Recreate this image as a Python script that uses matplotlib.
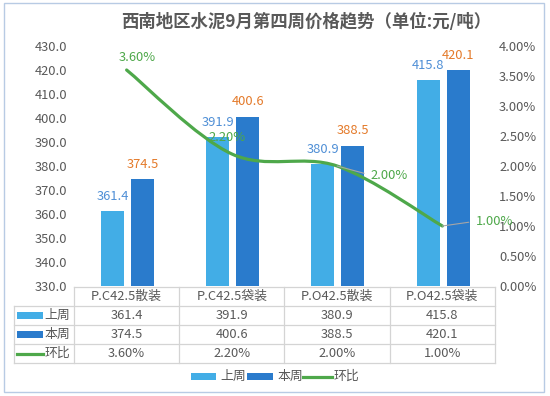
import numpy as np
import matplotlib
matplotlib.use('Agg')
import matplotlib.pyplot as plt
from matplotlib.path import Path
from matplotlib.patches import PathPatch, Rectangle
from matplotlib.lines import Line2D

plt.rcParams['font.family'] = ['Noto Sans CJK SC', 'DejaVu Sans']

# data
categories = ['P.C42.5散装', 'P.C42.5袋装', 'P.O42.5散装', 'P.O42.5袋装']
last_week = [361.4, 391.9, 380.9, 415.8]
this_week = [374.5, 400.6, 388.5, 420.1]
change_pct = [3.60, 2.20, 2.00, 1.00]
series_names = ['上周', '本周', '环比']
title = '西南地区水泥9月第四周价格趋势（单位:元/吨）'

C_LAST = '#42ade6'
C_THIS = '#2a7bcc'
C_LINE = '#4ea84a'
C_LAST_LBL = '#4f8fd6'
C_THIS_LBL = '#e47a2a'
C_TXT = '#595959'
C_GRID = '#d4d4d4'
FS = 9.3

W, H = 550, 396
fig = plt.figure(figsize=(5.5, 3.96), dpi=100)

def fx(px):
    return px / W

def fy(py):
    return 1 - py / H

L, R, T, B = 74, 495, 46, 286
ax = fig.add_axes([fx(L), fy(B), fx(R) - fx(L), fy(T) - fy(B)])
ax2 = ax.twinx()

x = np.arange(len(categories))
bw = 0.22
ax.bar(x - 0.135, last_week, bw, color=C_LAST, zorder=2)
ax.bar(x + 0.15, this_week, bw, color=C_THIS, zorder=2)
for xi, v in zip(x, last_week):
    ax.annotate(f'{v:.1f}', (xi - 0.135, v), xytext=(0, 8), textcoords='offset points',
                ha='center', va='baseline', fontsize=FS, color=C_LAST_LBL)
for xi, v in zip(x, this_week):
    ax.annotate(f'{v:.1f}', (xi + 0.15, v), xytext=(0, 8), textcoords='offset points',
                ha='center', va='baseline', fontsize=FS, color=C_THIS_LBL)

ax.set_xlim(-0.5, 3.5)
ax.set_ylim(330, 430)
ax.set_xticks([])
ax.set_yticks(np.arange(330, 431, 10))
ax.set_yticklabels([f'{v:.1f}' for v in np.arange(330, 431, 10)])
ax.tick_params(axis='y', length=0, pad=5, labelsize=FS, labelcolor=C_TXT)

ax2.set_ylim(0, 4)
ax2.set_yticks(np.arange(0, 4.01, 0.5))
ax2.set_yticklabels([f'{v:.2f}%' for v in np.arange(0, 4.01, 0.5)])
ax2.tick_params(axis='y', length=0, pad=3, labelsize=FS, labelcolor=C_TXT)
for a in (ax, ax2):
    for s in a.spines.values():
        s.set_visible(False)

# smoothed line (cubic bezier through the points)
pts = np.column_stack([x, change_pct]).astype(float)
n = len(pts)
verts = [pts[0]]
codes = [Path.MOVETO]
for i in range(n - 1):
    p0 = pts[max(i - 1, 0)]
    p1 = pts[i]
    p2 = pts[i + 1]
    p3 = pts[min(i + 2, n - 1)]
    verts += [p1 + (p2 - p0) / 6, p2 - (p3 - p1) / 6, p2]
    codes += [Path.CURVE4] * 3
ax2.add_patch(PathPatch(Path(verts, codes), fill=False, edgecolor=C_LINE, lw=2.3,
                        capstyle='round', zorder=3))

# label offsets (points): manual placements as in reference
lbl_off = [(7.9, 6.7), (-3.6, 9.6), (24.3, -9.1), (24.0, 0.9)]
lbl_ha = ['center', 'center', 'left', 'left']
for i, v in enumerate(change_pct):
    kw = {}
    if lbl_ha[i] == 'left':
        kw['arrowprops'] = dict(arrowstyle='-', color='#a6a6a6', lw=0.8,
                                shrinkA=3, shrinkB=0, relpos=(0, 0.5))
    ax2.annotate(f'{v:.2f}%', (x[i], v), xytext=lbl_off[i], textcoords='offset points',
                 ha=lbl_ha[i], va='baseline', fontsize=FS, color=C_LINE, zorder=4, **kw)

# title
fig.text(fx(306), fy(22), title, ha='center', va='center', fontsize=12.5,
         fontweight='bold', color=C_TXT)

# data table under the plot
cols = [L + i * (R - L) / 4 for i in range(5)]
rows = [287, 306, 325, 344, 363]
left_col = 14

def hline(y, x0, x1):
    fig.add_artist(Line2D([fx(x0), fx(x1)], [fy(y), fy(y)], color=C_GRID, lw=0.9))

def vline(xp, y0, y1):
    fig.add_artist(Line2D([fx(xp), fx(xp)], [fy(y0), fy(y1)], color=C_GRID, lw=0.9))

hline(rows[0], cols[0], cols[-1])
for y in rows[1:]:
    hline(y, left_col, cols[-1])
vline(left_col, rows[1], rows[-1])
for c in cols:
    vline(c, rows[0], rows[-1])

for i, cat in enumerate(categories):
    cx = (cols[i] + cols[i + 1]) / 2
    fig.text(fx(cx), fy((rows[0] + rows[1]) / 2), cat, ha='center', va='center',
             fontsize=FS, color=C_TXT)
    table_vals = [f'{last_week[i]:.1f}', f'{this_week[i]:.1f}', f'{change_pct[i]:.2f}%']
    for r, tv in enumerate(table_vals):
        fig.text(fx(cx), fy((rows[r + 1] + rows[r + 2]) / 2), tv, ha='center', va='center',
                 fontsize=FS, color=C_TXT)

def swatch(x0, x1, yc, kind, color):
    if kind == 'bar':
        fig.add_artist(Rectangle((fx(x0), fy(yc + 3.5)), fx(x1) - fx(x0), 7 / H,
                                 transform=fig.transFigure, color=color, lw=0))
    else:
        fig.add_artist(Line2D([fx(x0), fx(x1)], [fy(yc), fy(yc)], color=color, lw=2.3))

kinds = ['bar', 'bar', 'line']
colors = [C_LAST, C_THIS, C_LINE]
for r in range(3):
    yc = (rows[r + 1] + rows[r + 2]) / 2
    swatch(17.5, 43, yc, kinds[r], colors[r])
    fig.text(fx(70), fy(yc), series_names[r], ha='right', va='center', fontsize=FS, color=C_TXT)

# legend
leg_y = 376.5
leg_x = [(190.5, 216, 220), (247, 273, 278), (303.5, 331.5, 334)]
for r in range(3):
    x0, x1, tx = leg_x[r]
    swatch(x0, x1, leg_y, kinds[r], colors[r])
    fig.text(fx(tx), fy(leg_y), series_names[r], ha='left', va='center', fontsize=FS, color=C_TXT)

# outer frame
fig.add_artist(Rectangle((fx(4), fy(392)), fx(544) - fx(4), (392 - 3) / H,
                         transform=fig.transFigure, fill=False, edgecolor='#b8cbe4', lw=1))

fig.savefig('out.png', dpi=100)
